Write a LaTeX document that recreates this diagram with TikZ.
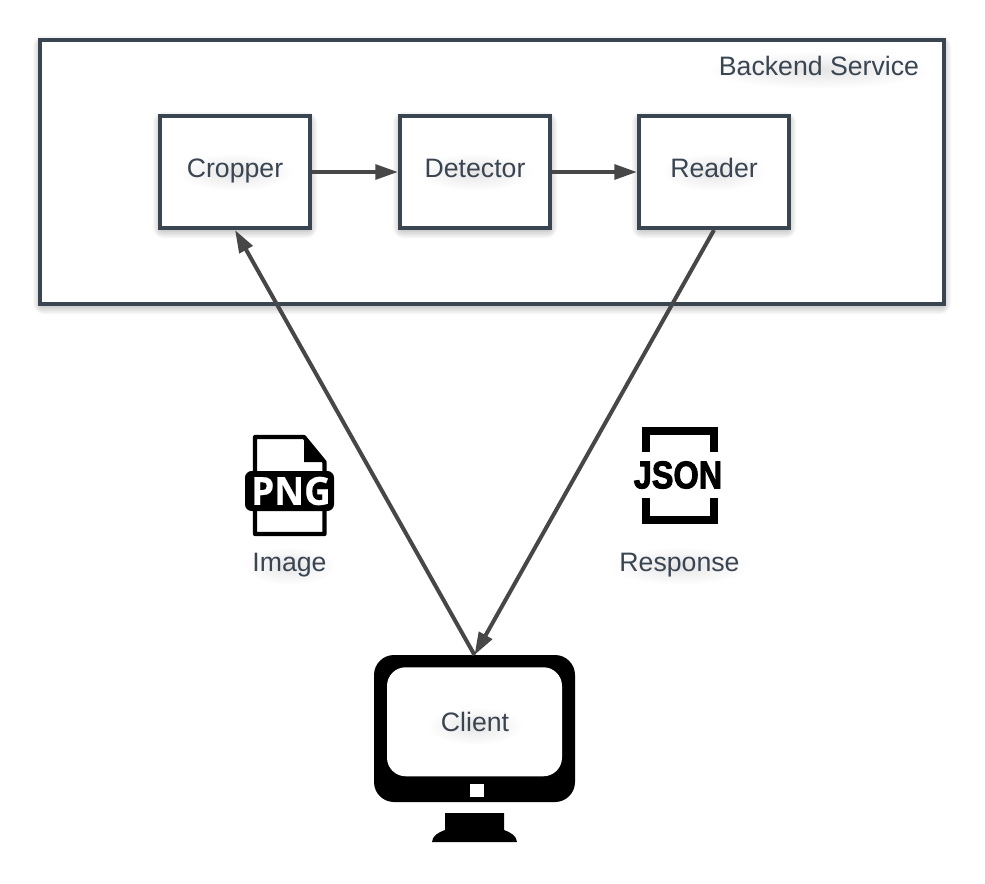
\documentclass[tikz,border=0pt]{standalone}
\usepackage{fontspec}
\setmainfont{Liberation Sans}
\newfontfamily\pngfont[FakeBold=0.6]{Open Sans Bold}
\newfontfamily\jsonfont[FakeBold=2.5]{Liberation Sans Bold}
\usetikzlibrary{arrows.meta,fadings,positioning}
\definecolor{boxline}{HTML}{3A4552}
\definecolor{arrowline}{HTML}{474747}
\definecolor{labeltext}{HTML}{3A4552}
\newcommand{\softshadow}[4]{%
  \foreach \sp in {7,5.5,4,2.5,1,-0.5} {
    \fill[black,opacity=0.035,rounded corners=\sp pt+1pt]
      (#1-\sp,#2-\sp+3) rectangle (#3+\sp,#4+\sp+3);
  }%
}
\newcommand{\textglow}[3]{%
  \fill[black,opacity=0.1,path fading=glowfade]
    (#1,#2+4) ellipse [x radius=#3, y radius=19];%
}
\tikzfading[name=glowfade,inner color=transparent!0,outer color=transparent!100]
\tikzset{
  x=0.75pt,y=-0.75pt,
  stagebox/.style={draw=boxline,line width=3pt,fill=white,minimum width=112.5pt,minimum height=84pt,inner sep=0pt},
  flowarrow/.style={draw=arrowline,line width=3pt,-{Triangle[length=17pt,width=11pt]}},
  caption/.style={font=\fontsize{20}{24}\selectfont,text=labeltext,inner sep=0pt,anchor=base},
  iconline/.style={draw=black,line width=3.2pt,line join=round},
}
\begin{document}
\begin{tikzpicture}
\useasboundingbox (0,0) rectangle (985,883);
\fill[white] (0,0) rectangle (985,883);

% backend service container
\softshadow{40}{40}{944}{304}
\node[draw=boxline,line width=3pt,fill=white,minimum width=678pt,minimum height=198pt,inner sep=0pt] (backend) at (492,172) {};
\textglow{819}{66}{112}
\node[caption] (backendlabel) at (819,75.5) {Backend Service};

% stages
\softshadow{160}{116}{310}{228}
\softshadow{400}{116}{550}{228}
\softshadow{639}{116}{789}{228}
\node[stagebox] (cropper) at (235,172) {};
\node[stagebox] (detector) at (475,172) {};
\node[stagebox] (reader) at (714,172) {};
\textglow{235}{168}{58}
\textglow{475}{168}{58}
\textglow{714}{168}{52}
\node[caption] (croppertext) at (235,177.5) {Cropper};
\node[caption] (detectortext) at (475,177.5) {Detector};
\node[caption] (readertext) at (714,177.5) {Reader};

% client monitor
\node[fill=black,rounded corners=15pt,minimum width=150.75pt,minimum height=110.25pt,inner sep=0pt,outer sep=0pt,anchor=north] (client) at (474.5,655) {};
\node[fill=white,rounded corners=14pt,minimum width=131.25pt,minimum height=81.75pt,inner sep=0pt,anchor=north] (screen) at (474.5,667) {};
\node[fill=white,minimum width=10.5pt,minimum height=9.75pt,inner sep=0pt] (powerlight) at (477,790.5) {};
\fill[black] (445,813) -- (504,813) -- (504,830) .. controls (510,832) and (517,836) .. (517,842)
  -- (432,842) .. controls (432,836) and (439,832) .. (445,830) -- cycle;
\textglow{475}{722}{48}
\node[caption] (clienttext) at (475,731.5) {Client};

% connectors
\draw[flowarrow] (cropper.east) -- (detector.west);
\draw[flowarrow] (detector.east) -- (reader.west);
\draw[flowarrow] (client.north) -- (cropper.south);
\draw[flowarrow] (reader.south) -- (client.north);

% PNG icon
\draw[iconline,fill=white] (255,437) -- (304,437) -- (324.5,462) -- (324.5,534) -- (255,534) -- cycle;
\fill[black,line join=round] (304,437) -- (324.5,462) -- (304,462) -- cycle;
\node[fill=black,rounded corners=5pt,minimum width=66.75pt,minimum height=30pt,inner sep=0pt] (pngband) at (289.5,491) {};
\node[inner sep=0pt,text=white,font=\fontsize{29}{30}\pngfont\selectfont,xscale=0.95] (pngtext) at (291,491) {PNG};
\textglow{289.5}{562}{46}
\node[caption] (imagelabel) at (289.5,571) {Image};

% JSON icon
\draw[black,line width=6pt] (645.5,452) -- (645.5,431) -- (713.5,431) -- (713.5,452);
\draw[black,line width=6pt] (645.5,498) -- (645.5,520) -- (713.5,520) -- (713.5,498);
\node[inner sep=0pt,text=black,font=\fontsize{29}{30}\jsonfont\selectfont,xscale=0.84] (jsontext) at (678,475) {JSON};
\textglow{679.5}{562}{70}
\node[caption] (responselabel) at (679.5,571) {Response};
\end{tikzpicture}
\end{document}
